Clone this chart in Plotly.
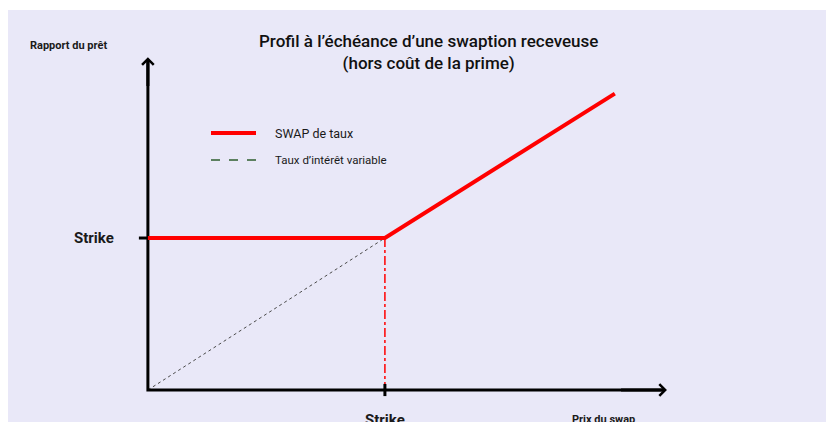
import plotly.graph_objects as go

# ---- data ----
strike = 100
swap_x = [0, strike, 197]
swap_y = [strike, strike, 195]
float_x = [0, strike]
float_y = [0, strike]
axis_end_x = 219
axis_end_y = 219
title_text = "Profil à l’échéance d’une swaption receveuse<br>(hors coût de la prime)"
y_label = "Rapport du prêt"
x_label = "Prix du swap"
tick_label = "Strike"
legend_names = ["SWAP de taux", "Taux d’intérêt variable"]

W, H = 826, 422
xr = [-62.4, 286.1]
yr = [-21.05, 256.6]
FONT = "Roboto, sans-serif"
DARK = "#1a1a1a"

fig = go.Figure()

# floating rate diagonal
fig.add_trace(go.Scatter(x=float_x, y=float_y, mode="lines",
                         line=dict(color="#4a4a4a", width=1, dash="3px,3px"),
                         showlegend=False, hoverinfo="skip"))
# strike vertical dash-dot
fig.add_trace(go.Scatter(x=[strike, strike], y=[strike, 0], mode="lines",
                         line=dict(color="#ff0000", width=1.5, dash="dashdot"),
                         showlegend=False, hoverinfo="skip"))
# axes
fig.add_trace(go.Scatter(x=[0, 0, axis_end_x - 2], y=[axis_end_y - 2, 0, 0], mode="lines",
                         line=dict(color="black", width=3),
                         showlegend=False, hoverinfo="skip"))
# ticks
fig.add_trace(go.Scatter(x=[-3.8, 0], y=[strike, strike], mode="lines",
                         line=dict(color="black", width=3),
                         showlegend=False, hoverinfo="skip"))
fig.add_trace(go.Scatter(x=[strike, strike], y=[4, -4], mode="lines",
                         line=dict(color="black", width=3),
                         showlegend=False, hoverinfo="skip"))
# swap payoff
fig.add_trace(go.Scatter(x=swap_x, y=swap_y, mode="lines",
                         line=dict(color="#ff0000", width=4),
                         showlegend=False, hoverinfo="skip"))

# arrowheads
for (tx, ty, axv, ayv) in [(0, axis_end_y, 0, axis_end_y - 20), (axis_end_x, 0, axis_end_x - 20, 0)]:
    fig.add_annotation(x=tx, y=ty, ax=axv, ay=ayv, xref="x", yref="y", axref="x", ayref="y",
                       showarrow=True, arrowhead=4, arrowsize=0.75, arrowwidth=3,
                       arrowcolor="black", text="")

# background panel
fig.add_shape(type="rect", xref="paper", yref="paper", x0=8 / W, x1=1, y0=0, y1=(H - 10) / H,
              fillcolor="#e9e8f8", line=dict(width=0), layer="below")

# legend (manual)
fig.add_shape(type="line", xref="paper", yref="paper", x0=211 / W, x1=256 / W,
              y0=1 - 133 / H, y1=1 - 133 / H, line=dict(color="#ff0000", width=4))
fig.add_shape(type="line", xref="paper", yref="paper", x0=211 / W, x1=256 / W,
              y0=1 - 160 / H, y1=1 - 160 / H, line=dict(color="#2e5e2e", width=1.5, dash="dash"))
fig.add_annotation(x=273 / W, y=1 - 133 / H, xref="paper", yref="paper", text=legend_names[0],
                   showarrow=False, xanchor="left", yanchor="middle",
                   font=dict(family=FONT, size=12.5, color=DARK))
fig.add_annotation(x=273 / W, y=1 - 160 / H, xref="paper", yref="paper", text=legend_names[1],
                   showarrow=False, xanchor="left", yanchor="middle",
                   font=dict(family=FONT, size=11.5, color=DARK))

# title
fig.add_annotation(x=428 / W, y=1 - 52 / H, xref="paper", yref="paper", text=title_text,
                   showarrow=False, xanchor="center", yanchor="middle", align="center",
                   font=dict(family=FONT, size=17, color="#111111", weight=500))
# axis labels
fig.add_annotation(x=28 / W, y=1 - 45 / H, xref="paper", yref="paper", text="<b>" + y_label + "</b>",
                   showarrow=False, xanchor="left", yanchor="middle",
                   font=dict(family=FONT, size=11, color=DARK))
fig.add_annotation(x=603 / W, y=1 - 419 / H, xref="paper", yref="paper", text="<b>" + x_label + "</b>",
                   showarrow=False, xanchor="center", yanchor="middle",
                   font=dict(family=FONT, size=11, color=DARK))
fig.add_annotation(x=116 / W, y=strike, xref="paper", yref="y", text="<b>" + tick_label + "</b>",
                   showarrow=False, xanchor="right", yanchor="middle",
                   font=dict(family=FONT, size=15, color=DARK))
fig.add_annotation(x=strike, y=1 - 420 / H, xref="x", yref="paper", text="<b>" + tick_label + "</b>",
                   showarrow=False, xanchor="center", yanchor="middle",
                   font=dict(family=FONT, size=15, color=DARK))

fig.update_layout(
    width=W, height=H, margin=dict(l=0, r=0, t=0, b=0),
    paper_bgcolor="white", plot_bgcolor="rgba(0,0,0,0)",
    xaxis=dict(range=xr, visible=False, fixedrange=True),
    yaxis=dict(range=yr, visible=False, fixedrange=True),
    showlegend=False,
)

fig.write_html("out.html", config={"displayModeBar": False},
               post_script="document.body.style.margin='0';document.body.style.overflow='hidden';")
